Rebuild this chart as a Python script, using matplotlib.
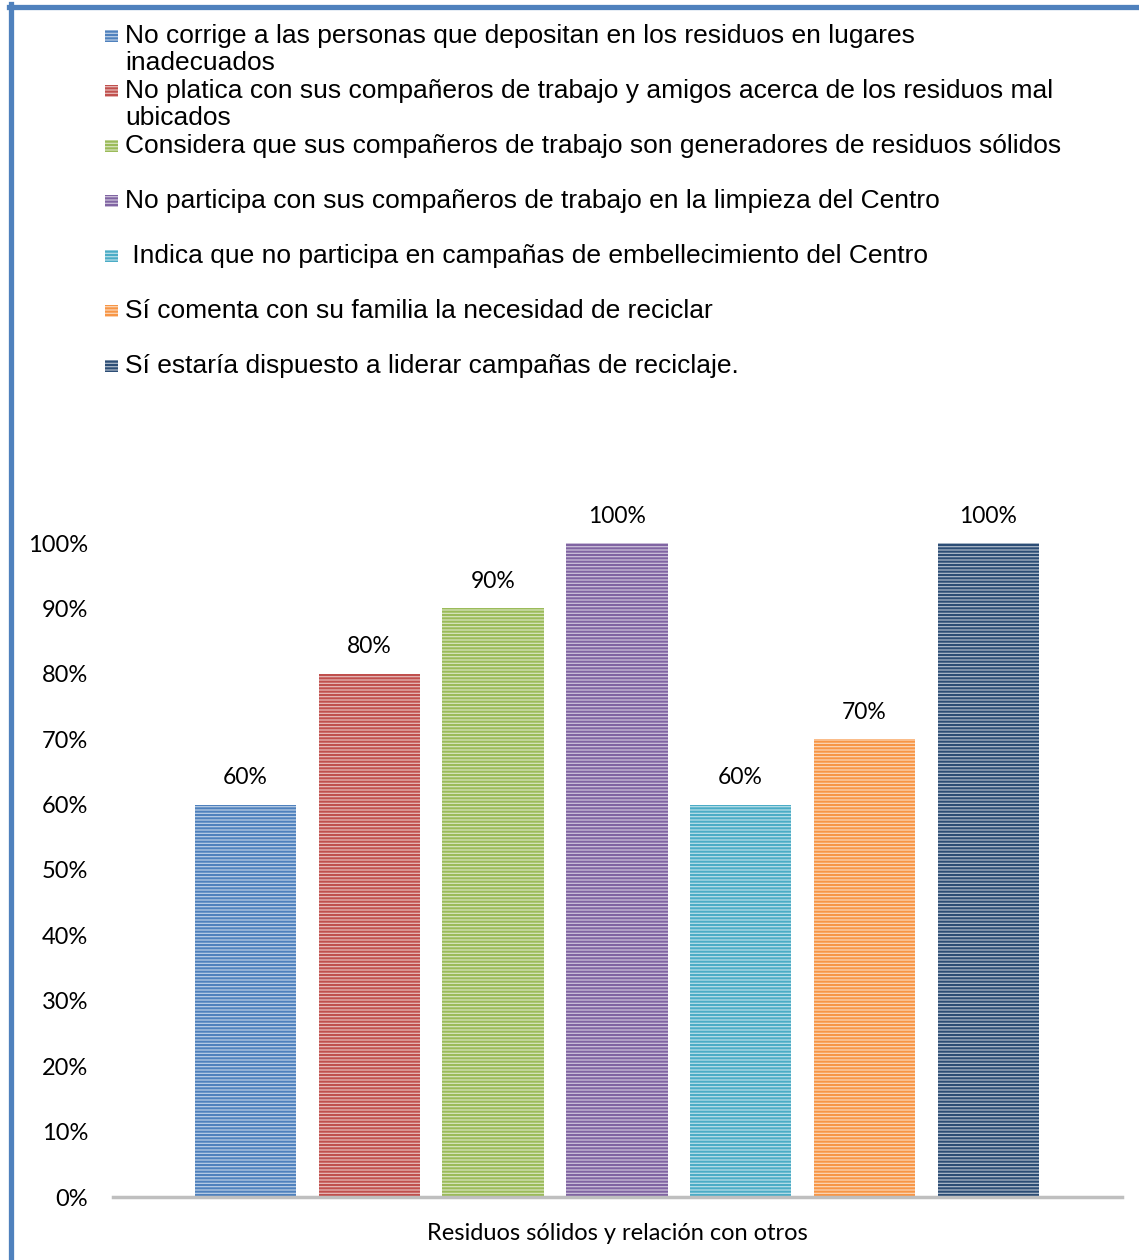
import matplotlib
matplotlib.use('Agg')
import matplotlib.pyplot as plt
from matplotlib.patches import Rectangle
from matplotlib.lines import Line2D
from matplotlib.colors import to_rgb
import numpy as np

# ---------------------- data ----------------------
series_labels = [
    'No corrige a las personas que depositan en los residuos en lugares\ninadecuados',
    'No platica con sus compañeros de trabajo y amigos acerca de los residuos mal\nubicados',
    'Considera que sus compañeros de trabajo son generadores de residuos sólidos',
    'No participa con sus compañeros de trabajo en la limpieza del Centro',
    ' Indica que no participa en campañas de embellecimiento del Centro',
    'Sí comenta con su familia la necesidad de reciclar',
    'Sí estaría dispuesto a liderar campañas de reciclaje.',
]
values = [0.60, 0.80, 0.90, 1.00, 0.60, 0.70, 1.00]
bar_colors = ['#4F81BD', '#C0504D', '#9BBB59', '#8064A2', '#4BACC6', '#F79646', '#2C4D75']
yticks = [0, 0.1, 0.2, 0.3, 0.4, 0.5, 0.6, 0.7, 0.8, 0.9, 1.0]
xlabel = 'Residuos sólidos y relación con otros'

W, H = 1139, 1260


def lighten(c, f=0.6):
    r, g, b = to_rgb(c)
    return (r + (1 - r) * f, g + (1 - g) * f, b + (1 - b) * f)


# striped fill like the Excel pattern (about one stripe every 3.3 px)
plt.rcParams['hatch.linewidth'] = 1.5
stripes = '-----'

fig = plt.figure(figsize=(W / 100, H / 100), dpi=100)
ax = fig.add_axes([113 / W, 1 - 1197 / H, (1122 - 113) / W, (1197 - 543) / H])

x = np.arange(len(values))
for xi, v, c in zip(x, values, bar_colors):
    ax.bar(xi, v, width=0.82, facecolor=lighten(c), edgecolor=c, linewidth=0,
           hatch=stripes, zorder=2)
    ax.text(xi, v + 0.025, '{:.0f}%'.format(v * 100), ha='center', va='bottom',
            fontsize=16.5, family='Lato', clip_on=False)

ax.set_xlim(-1.07, 7.08)
ax.set_ylim(0, 1)
ax.set_yticks(yticks)
ax.set_yticklabels(['{:.0f}%'.format(t * 100) for t in yticks], family='Lato', fontsize=17)
ax.tick_params(axis='y', length=0, pad=18)
ax.set_xticks([])
for s in ['top', 'right', 'left']:
    ax.spines[s].set_visible(False)
ax.spines['bottom'].set_color('#BFBFBF')
ax.spines['bottom'].set_linewidth(2.5)
ax.spines['bottom'].set_zorder(3)
ax.set_xlabel(xlabel, family='Lato', fontsize=17, labelpad=19)

# ---------------- legend drawn by hand (Excel style) ----------------
for i, (lab, c) in enumerate(zip(series_labels, bar_colors)):
    ytop = 36 + 55 * i
    fig.patches.append(Rectangle((105 / W, 1 - (ytop + 6) / H), 13 / W, 12 / H,
                                 transform=fig.transFigure, facecolor=lighten(c),
                                 edgecolor=c, linewidth=0, hatch=stripes))
    fig.text(125 / W, 1 - (ytop - 12) / H, lab, ha='left', va='top',
             fontsize=19, family='Liberation Sans', linespacing=1.16)

# ---------------- frame ----------------
fig.add_artist(Line2D([10.5 / W, 10.5 / W], [0, 1 - 4 / H], transform=fig.transFigure,
                      color='#4F81BD', linewidth=3.8))
fig.add_artist(Line2D([8.5 / W, 1], [1 - 6.5 / H, 1 - 6.5 / H], transform=fig.transFigure,
                      color='#4F81BD', linewidth=3.8))

fig.savefig('out.png', dpi=100)
